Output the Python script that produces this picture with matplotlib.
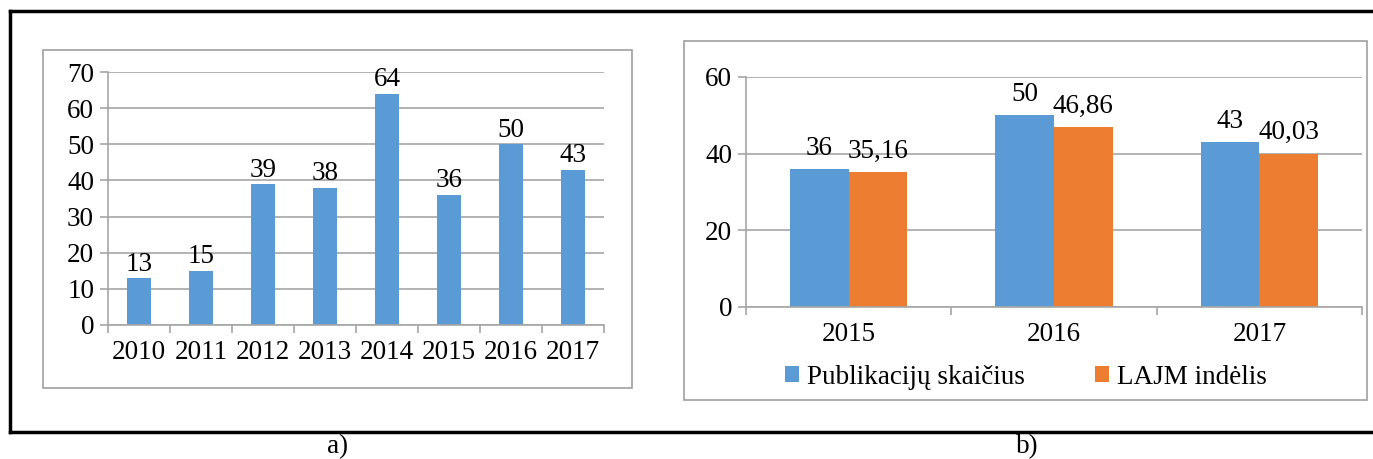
import matplotlib.pyplot as plt
from matplotlib.patches import Rectangle
from matplotlib.lines import Line2D
import numpy as np

plt.rcParams['font.family'] = ['Liberation Serif', 'DejaVu Serif']

# data
years_a = ['2010', '2011', '2012', '2013', '2014', '2015', '2016', '2017']
counts_a = [13, 15, 39, 38, 64, 36, 50, 43]

years_b = ['2015', '2016', '2017']
publications = [36, 50, 43]
lajm_share = [35.16, 46.86, 40.03]
series_names = ['Publikacijų skaičius', 'LAJM indėlis']

blue = '#5B9BD5'
orange = '#ED7D31'
grid_c = '#a6a6a6'
W, H = 1373, 459

fig = plt.figure(figsize=(13.73, 4.59), dpi=100)

def fx(px):
    return px / W

def fy(py):
    return 1 - py / H

# outer frame (left, top, bottom) and panel boxes
for xs, ys in [([10, 10], [11, 432]), ([10, W], [11, 11]), ([10, W], [432, 432])]:
    fig.add_artist(Line2D([fx(x) for x in xs], [fy(y) for y in ys], color='black', lw=2.5))
fig.add_artist(Rectangle((fx(43), fy(388)), fx(632 - 43), (388 - 50) / H,
                         fill=False, ec='#a0a0a0', lw=1.2))
fig.add_artist(Rectangle((fx(684), fy(400)), fx(1367 - 684), (400 - 41) / H,
                         fill=False, ec='#a0a0a0', lw=1.2))

fs = 19.5


def style_axes(ax, n, ymax, step):
    ax.set_xlim(-0.5, n - 0.5)
    ax.set_ylim(0, ymax)
    ax.set_yticks(np.arange(0, ymax + 1, step))
    ax.yaxis.grid(True, color=grid_c, lw=1.2)
    ax.set_axisbelow(True)
    for s in ['top', 'right']:
        ax.spines[s].set_visible(False)
    for s in ['left', 'bottom']:
        ax.spines[s].set_color(grid_c)
        ax.spines[s].set_linewidth(1.2)
    ax.set_xticks(np.arange(n), minor=False)
    ax.set_xticks(np.arange(n + 1) - 0.5, minor=True)
    ax.tick_params(axis='x', which='major', length=0, pad=11, labelsize=fs)
    ax.tick_params(axis='x', which='minor', length=6, color=grid_c, width=1.2)
    ax.tick_params(axis='y', length=6, color=grid_c, width=1.2, labelsize=fs, pad=4)


# panel a
ax1 = fig.add_axes([fx(108), fy(325), fx(604 - 108), 253 / H])
x1 = np.arange(len(years_a))
ax1.bar(x1, counts_a, width=0.4, color=blue)
style_axes(ax1, len(years_a), 70, 10)
ax1.set_xticklabels(years_a)
for xi, v in zip(x1, counts_a):
    ax1.annotate(str(v), (xi, v), xytext=(0, 1), textcoords='offset points',
                 ha='center', va='bottom', fontsize=fs)

# panel b
ax2 = fig.add_axes([fx(746), fy(307), fx(1362 - 746), 230 / H])
x2 = np.arange(len(years_b))
bw = 0.285
ax2.bar(x2 - bw / 2, publications, width=bw, color=blue, label=series_names[0])
ax2.bar(x2 + bw / 2, lajm_share, width=bw, color=orange, label=series_names[1])
style_axes(ax2, len(years_b), 60, 20)
ax2.set_xticklabels(years_b)
for xi, v in zip(x2, publications):
    ax2.annotate(str(v), (xi - bw / 2, v), xytext=(0, 6), textcoords='offset points',
                 ha='center', va='bottom', fontsize=fs)
for xi, v in zip(x2, lajm_share):
    ax2.annotate(f'{v:.2f}'.replace('.', ','), (xi + bw / 2, v), xytext=(0, 6),
                 textcoords='offset points', ha='center', va='bottom', fontsize=fs)

fig.legend(loc='center', bbox_to_anchor=(fx(1026), fy(377)), ncol=2, frameon=False,
           fontsize=fs, handlelength=0.5, handleheight=0.5, handletextpad=0.3,
           columnspacing=2.6, borderpad=0)

fig.text(fx(338), fy(447), 'a)', ha='center', va='center', fontsize=fs)
fig.text(fx(1027), fy(447), 'b)', ha='center', va='center', fontsize=fs)

fig.savefig('out.png', dpi=100)
